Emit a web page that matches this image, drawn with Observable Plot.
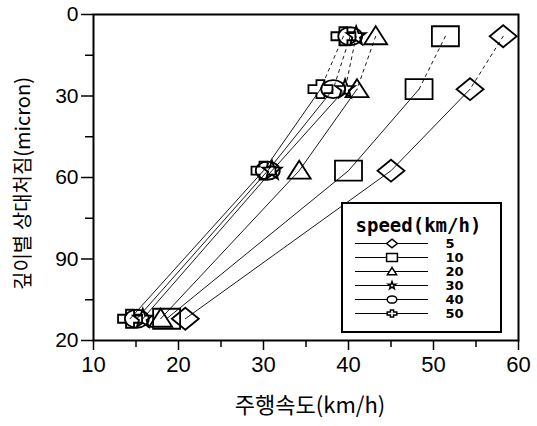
<!DOCTYPE html>
<html><head><meta charset="utf-8">
<script src="https://cdn.jsdelivr.net/npm/d3@7"></script>
<script src="https://cdn.jsdelivr.net/npm/@observablehq/plot@0.6"></script>
<style>
body{margin:0;background:#fff;}
#wrap{position:relative;width:537px;height:426px;}
#legend{position:absolute;left:341px;top:202px;}
#legend svg{border:2px solid #000;background:#fff;display:block;}
</style></head><body><div id="wrap"><div id="legend"></div></div>
<script>
const speeds = ["5","10","20","30","40","50"];
const depths = [8, 27.5, 57.5, 112];
const v5  = [58.2, 54.3, 45.0, 20.8];
const v10 = [51.4, 48.3, 40.0, 18.6];
const v20 = [43.2, 41.0, 34.2, 17.9];
const v30 = [40.9, 39.6, 31.0, 15.8];
const v40 = [40.2, 38.2, 30.5, 15.1];
const v50 = [39.4, 36.7, 30.0, 14.3];
const xTicks = [10,20,30,40,50,60];
const xMinor = [15,25,35,45,55];
const yTicks = [0,30,60,90,120];
const yTickLabels = ["0","30","60","90","20"];
const yMinor = [15,45,75,105];
const xTitle = "주행속도(km/h)";
const yTitle = "깊이별 상대처짐(micron)";
const legendTitle = "speed(km/h)";

function sym(f){ return {draw(c, size){ const k = Math.sqrt(size/Math.PI)/10; f(c,k); }}; }
const diamond = sym((c,k)=>{c.moveTo(0,-11*k);c.lineTo(13.5*k,0);c.lineTo(0,11*k);c.lineTo(-13.5*k,0);c.closePath();});
const square = sym((c,k)=>{c.moveTo(-13.5*k,-10*k);c.lineTo(13.5*k,-10*k);c.lineTo(13.5*k,10*k);c.lineTo(-13.5*k,10*k);c.closePath();});
const triangle = sym((c,k)=>{c.moveTo(0,-10*k);c.lineTo(11.5*k,8*k);c.lineTo(-11.5*k,8*k);c.closePath();});
const star = sym((c,k)=>{for(let i=0;i<10;i++){const a=-Math.PI/2+i*Math.PI/5;const rr=(i%2?4:10)*k;const px=rr*Math.cos(a),py=rr*Math.sin(a);if(i)c.lineTo(px,py);else c.moveTo(px,py);}c.closePath();});
const ellipse = sym((c,k)=>{const rx=12*k,ry=9*k,m=0.5523;c.moveTo(rx,0);c.bezierCurveTo(rx,ry*m,rx*m,ry,0,ry);c.bezierCurveTo(-rx*m,ry,-rx,ry*m,-rx,0);c.bezierCurveTo(-rx,-ry*m,-rx*m,-ry,0,-ry);c.bezierCurveTo(rx*m,-ry,rx,-ry*m,rx,0);c.closePath();});
const cross = sym((c,k)=>{const a=4*k,w=12*k,h=9*k;const p=[[-a,-h],[a,-h],[a,-a],[w,-a],[w,a],[a,a],[a,h],[-a,h],[-a,a],[-w,a],[-w,-a],[-a,-a]];p.forEach(([x,y],i)=>i?c.lineTo(x,y):c.moveTo(x,y));c.closePath();});

const series = [
  {name:"5", values:v5, symbol:diamond},
  {name:"10", values:v10, symbol:square},
  {name:"20", values:v20, symbol:triangle},
  {name:"30", values:v30, symbol:star},
  {name:"40", values:v40, symbol:ellipse},
  {name:"50", values:v50, symbol:cross}
];
const rows = [];
series.forEach(s => depths.forEach((d,j) => rows.push({speed:s.name, x:s.values[j], y:d, j})));

const numFont = "'Liberation Sans Narrow','Liberation Sans',Arial,sans-serif";
const krFont = "'Noto Sans CJK KR','Noto Sans',sans-serif";

const chart = Plot.plot({
  width:537, height:426,
  marginLeft:93, marginRight:19, marginTop:14, marginBottom:86,
  style:{fontFamily:numFont, background:"#fff", color:"#000"},
  x:{domain:[10,60], label:null},
  y:{domain:[0,120], reverse:true, label:null},
  marks:[
    Plot.line(rows.filter(r=>r.j>=1), {x:"x", y:"y", z:"speed", stroke:"#000", strokeWidth:0.9}),
    Plot.line(rows.filter(r=>r.j<=1), {x:"x", y:"y", z:"speed", stroke:"#000", strokeWidth:0.9, strokeDasharray:"3,4"}),
    ...series.slice().reverse().map(s => Plot.dot(rows.filter(r=>r.speed===s.name), {x:"x", y:"y", symbol:s.symbol, r:10, stroke:"#000", fill:"none", strokeWidth:1.8})),
    Plot.frame({stroke:"#000", strokeWidth:2}),
    Plot.axisX(xTicks, {tickSize:10, tickPadding:6, fontSize:22, strokeWidth:1.5, label:null}),
    Plot.axisX(xMinor, {tickSize:7, tickFormat:()=>"", strokeWidth:1.5, label:null}),
    Plot.axisY(yTicks, {tickSize:12, tickPadding:3, fontSize:21, strokeWidth:1.5, label:null, tickFormat:d=>yTickLabels[yTicks.indexOf(d)]}),
    Plot.axisY(yMinor, {tickSize:8, tickFormat:()=>"", strokeWidth:1.5, label:null}),
    Plot.text([xTitle], {frameAnchor:"bottom", dy:72, dx:4, fontSize:22, fontFamily:krFont}),
    Plot.text([yTitle], {frameAnchor:"left", textAnchor:"middle", dx:-70, dy:6, rotate:-90, fontSize:20, fontFamily:krFont})
  ]
});
document.getElementById("wrap").prepend(chart);

const legend = Plot.plot({
  width:157, height:127,
  marginLeft:12, marginRight:72, marginTop:0, marginBottom:0,
  x:{domain:[0,1], axis:null},
  y:{type:"point", domain:speeds, range:[31,116], axis:null},
  style:{background:"#fff", color:"#000", overflow:"visible"},
  marks:[
    Plot.ruleY(speeds, {y:d=>d, x1:0, x2:1, stroke:"#000", strokeWidth:1}),
    ...series.map(s => Plot.dot([s.name], {x:0.5, y:d=>d, symbol:s.symbol, r:4, stroke:"#000", fill:"#fff", strokeWidth:1.5})),
    Plot.text(speeds, {y:d=>d, x:1, dx:17, textAnchor:"start", fontWeight:"bold", fontSize:13, fontFamily:"'DejaVu Sans',sans-serif"}),
    Plot.text([legendTitle], {frameAnchor:"top-left", dy:14, textAnchor:"start", fontWeight:"bold", fontSize:19, fontFamily:"'DejaVu Sans Mono',monospace"})
  ]
});
document.getElementById("legend").appendChild(legend);
</script></body></html>
